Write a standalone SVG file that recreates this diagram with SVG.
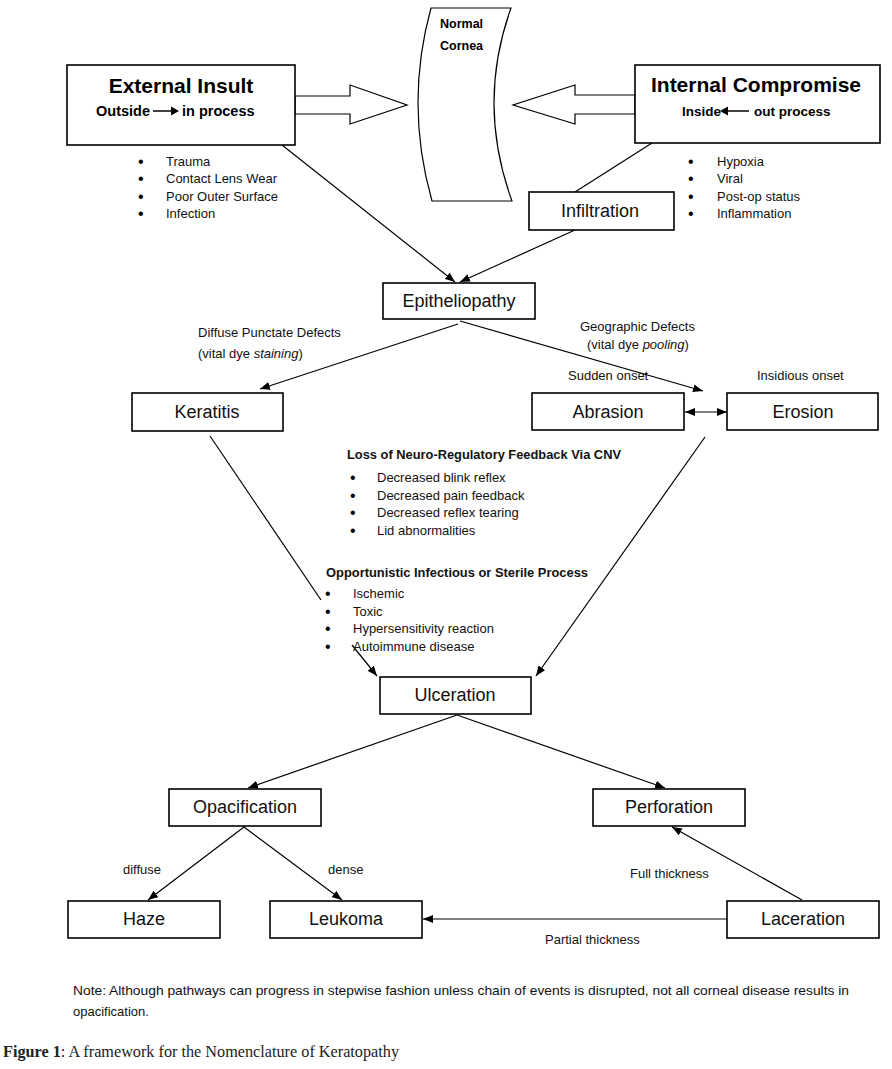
<svg xmlns="http://www.w3.org/2000/svg" width="892" height="1069" viewBox="0 0 892 1069">
<defs>
<style>
.box{fill:#fff;stroke:#000;stroke-width:1.6}
.lbl{font-family:"Liberation Sans",Arial,sans-serif;font-size:18px;fill:#111;text-anchor:middle}
.sm{font-family:"Liberation Sans",Arial,sans-serif;font-size:13px;fill:#111}
.bul{font-family:"Liberation Sans",Arial,sans-serif;font-size:16px;fill:#000}
.smb{font-family:"Liberation Sans",Arial,sans-serif;font-size:13px;font-weight:bold;fill:#111}
.big{font-family:"Liberation Sans",Arial,sans-serif;font-size:21px;font-weight:bold;fill:#000;text-anchor:middle}
.sub{font-family:"Liberation Sans",Arial,sans-serif;font-weight:bold;fill:#000}
.ln{fill:none;stroke:#000;stroke-width:1.2}
.fat{fill:#fff;stroke:#000;stroke-width:1.2}
</style>
<marker id="ah" viewBox="0 0 10 8" refX="10" refY="4" markerWidth="10" markerHeight="8" markerUnits="userSpaceOnUse" orient="auto-start-reverse">
<path d="M0,0 L10,4 L0,8 Z" fill="#000"/>
</marker>
</defs>
<rect width="892" height="1069" fill="#fff"/>

<g id="connectors">
<polygon class="fat" points="295,96 350,96 350,85 407,105 350,124 350,114 295,114"/>
<polygon class="fat" points="635,95 575,95 575,85 513,105 575,124 575,114 635,114"/>
<line class="ln" x1="282" y1="145" x2="455" y2="282" marker-end="url(#ah)"/>
<line class="ln" x1="575" y1="230" x2="460" y2="282" marker-end="url(#ah)"/>
<line class="ln" x1="652" y1="143" x2="575" y2="192"/>
<line class="ln" x1="458" y1="324" x2="260" y2="389" marker-end="url(#ah)"/>
<line class="ln" x1="460" y1="321" x2="703" y2="391" marker-end="url(#ah)"/>
<line class="ln" x1="685" y1="412" x2="727" y2="412" marker-start="url(#ah)" marker-end="url(#ah)"/>
<line class="ln" x1="210" y1="436" x2="321" y2="600"/>
<line class="ln" x1="352" y1="645" x2="377" y2="676" marker-end="url(#ah)"/>
<line class="ln" x1="705" y1="437" x2="536" y2="676" marker-end="url(#ah)"/>
<line class="ln" x1="457" y1="715" x2="248" y2="788" marker-end="url(#ah)"/>
<line class="ln" x1="457" y1="715" x2="665" y2="788" marker-end="url(#ah)"/>
<line class="ln" x1="244" y1="827" x2="148" y2="900" marker-end="url(#ah)"/>
<line class="ln" x1="244" y1="827" x2="342" y2="900" marker-end="url(#ah)"/>
<line class="ln" x1="802" y1="900" x2="672" y2="827" marker-end="url(#ah)"/>
<line class="ln" x1="727" y1="919" x2="423" y2="919" marker-end="url(#ah)"/>
</g>

<g id="cornea">
<path class="fat" d="M431,8 L511,8 Q476.5,104 512,201 L432,201 Q404.5,104 431,8 Z"/>
<text class="sub" x="440" y="28" font-size="12.5">Normal</text>
<text class="sub" x="440" y="50" font-size="12.5">Cornea</text>
</g>

<g id="external-insult">
<rect class="box" x="67" y="65" width="228" height="80"/>
<text class="big" x="181" y="93">External Insult</text>
<text class="sub" x="96" y="116" font-size="14.5">Outside</text>
<line x1="153" y1="111" x2="172" y2="111" stroke="#000" stroke-width="1.5"/>
<path d="M171,106.5 L179,111 L171,115.5 Z" fill="#000"/>
<text class="sub" x="182" y="116" font-size="14.5">in process</text>
<text class="bul" x="138" y="167">•</text><text class="sm" x="166" y="166">Trauma</text>
<text class="bul" x="138" y="184">•</text><text class="sm" x="166" y="183">Contact Lens Wear</text>
<text class="bul" x="138" y="202">•</text><text class="sm" x="166" y="201">Poor Outer Surface</text>
<text class="bul" x="138" y="219">•</text><text class="sm" x="166" y="218">Infection</text>
</g>

<g id="internal-compromise">
<rect class="box" x="635" y="65" width="245" height="78"/>
<text class="big" x="756" y="92">Internal Compromise</text>
<text class="sub" x="682" y="116" font-size="13.5">Inside</text>
<path d="M720,111 L728,106.5 L728,115.5 Z" fill="#000"/>
<line x1="727" y1="111" x2="749" y2="111" stroke="#000" stroke-width="1.5"/>
<text class="sub" x="754" y="116" font-size="13.5">out process</text>
<text class="bul" x="688" y="167">•</text><text class="sm" x="717" y="166">Hypoxia</text>
<text class="bul" x="688" y="184">•</text><text class="sm" x="717" y="183">Viral</text>
<text class="bul" x="688" y="202">•</text><text class="sm" x="717" y="201">Post-op status</text>
<text class="bul" x="688" y="219">•</text><text class="sm" x="717" y="218">Inflammation</text>
</g>

<g id="infiltration">
<rect class="box" x="529" y="192" width="145" height="38"/>
<text class="lbl" x="600" y="217">Infiltration</text>
</g>

<g id="epitheliopathy">
<rect class="box" x="383" y="283" width="152" height="36"/>
<text class="lbl" x="459" y="307">Epitheliopathy</text>
</g>

<g id="defect-labels">
<text class="sm" x="198" y="337">Diffuse Punctate Defects</text>
<text class="sm" x="198" y="358">(vital dye <tspan font-style="italic">staining</tspan>)</text>
<text class="sm" x="580" y="331">Geographic Defects</text>
<text class="sm" x="587" y="349">(vital dye <tspan font-style="italic">pooling</tspan>)</text>
<text class="sm" x="568" y="380">Sudden onset</text>
<text class="sm" x="757" y="380">Insidious onset</text>
</g>

<g id="keratitis">
<rect class="box" x="132" y="393" width="151" height="38"/>
<text class="lbl" x="207" y="418">Keratitis</text>
</g>
<g id="abrasion">
<rect class="box" x="532" y="393" width="152" height="37"/>
<text class="lbl" x="608" y="418">Abrasion</text>
</g>
<g id="erosion">
<rect class="box" x="727" y="393" width="151" height="37"/>
<text class="lbl" x="803" y="418">Erosion</text>
</g>

<g id="neuro-feedback">
<text class="smb" x="347" y="459" textLength="274" lengthAdjust="spacingAndGlyphs">Loss of Neuro-Regulatory Feedback Via CNV</text>
<text class="bul" x="350" y="483">•</text><text class="sm" x="377" y="482">Decreased blink reflex</text>
<text class="bul" x="350" y="501">•</text><text class="sm" x="377" y="500">Decreased pain feedback</text>
<text class="bul" x="350" y="518">•</text><text class="sm" x="377" y="517">Decreased reflex tearing</text>
<text class="bul" x="350" y="536">•</text><text class="sm" x="377" y="535">Lid abnormalities</text>
</g>

<g id="opportunistic">
<text class="smb" x="326" y="577" textLength="262" lengthAdjust="spacingAndGlyphs">Opportunistic Infectious or Sterile Process</text>
<text class="bul" x="325" y="599">•</text><text class="sm" x="353" y="598">Ischemic</text>
<text class="bul" x="325" y="617">•</text><text class="sm" x="353" y="616">Toxic</text>
<text class="bul" x="325" y="634">•</text><text class="sm" x="353" y="633">Hypersensitivity reaction</text>
<text class="bul" x="325" y="652">•</text><text class="sm" x="353" y="651">Autoimmune disease</text>
</g>

<g id="ulceration">
<rect class="box" x="380" y="677" width="151" height="37"/>
<text class="lbl" x="455" y="701">Ulceration</text>
</g>
<g id="opacification">
<rect class="box" x="169" y="789" width="152" height="37"/>
<text class="lbl" x="245" y="813">Opacification</text>
</g>
<g id="perforation">
<rect class="box" x="593" y="789" width="152" height="37"/>
<text class="lbl" x="669" y="813">Perforation</text>
</g>
<g id="haze">
<rect class="box" x="68" y="901" width="152" height="37"/>
<text class="lbl" x="144" y="925">Haze</text>
</g>
<g id="leukoma">
<rect class="box" x="270" y="901" width="152" height="37"/>
<text class="lbl" x="346" y="925">Leukoma</text>
</g>
<g id="laceration">
<rect class="box" x="727" y="901" width="152" height="37"/>
<text class="lbl" x="803" y="925">Laceration</text>
</g>

<g id="edge-labels">
<text class="sm" x="123" y="874">diffuse</text>
<text class="sm" x="328" y="874">dense</text>
<text class="sm" x="630" y="878">Full thickness</text>
<text class="sm" x="545" y="944">Partial thickness</text>
</g>

<g id="note">
<text class="sm" x="73" y="995" textLength="776" lengthAdjust="spacingAndGlyphs">Note:  Although pathways can progress in stepwise fashion unless chain of events is disrupted, not all corneal disease results in</text>
<text class="sm" x="73" y="1016">opacification.</text>
</g>

<g id="caption">
<text x="3" y="1057" font-family="'Liberation Serif','Times New Roman',serif" font-size="16" fill="#222" textLength="396" lengthAdjust="spacingAndGlyphs"><tspan font-weight="bold">Figure 1</tspan>: A framework for the Nomenclature of Keratopathy</text>
</g>
</svg>
